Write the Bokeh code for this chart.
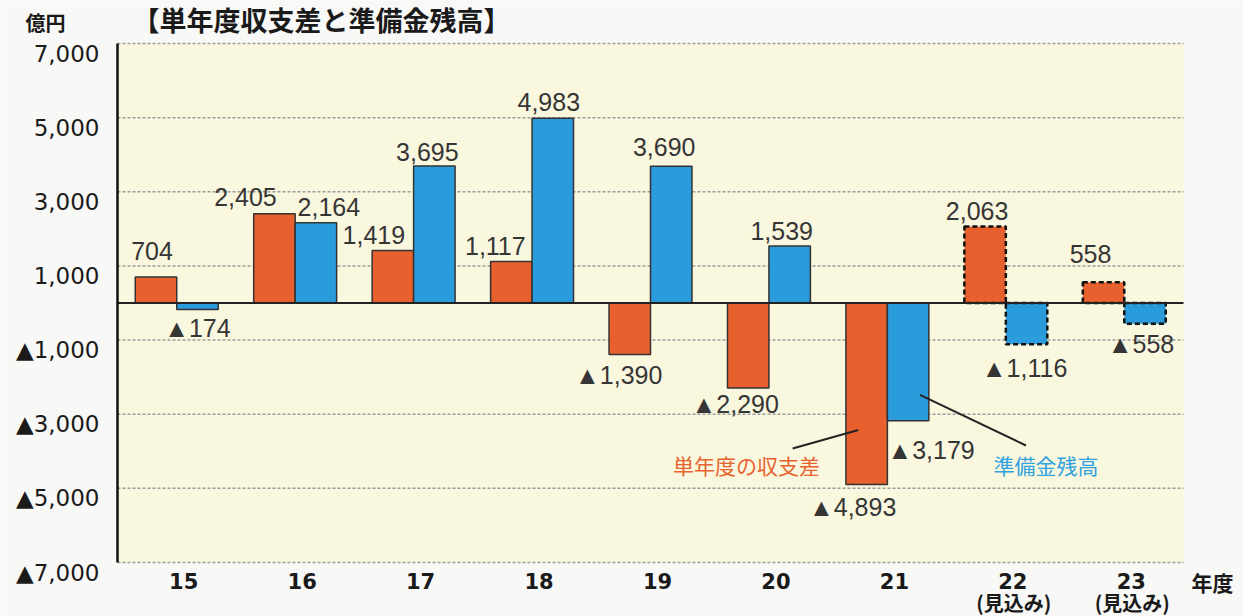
from bokeh.plotting import figure
from bokeh.models import ColumnDataSource, Range1d, CDSView, BooleanFilter
from bokeh.transform import dodge
from bokeh.core.properties import value
from bokeh.embed import file_html
from bokeh.resources import INLINE

# ---------------- data ----------------
title_text = "【単年度収支差と準備金残高】"
unit_text = "億円"
year_text = "年度"
categories = ["15", "16", "17", "18", "19", "20", "21", "22", "23"]
estimate_note = "(見込み)"
is_estimate = [False, False, False, False, False, False, False, True, True]
series_names = ["単年度の収支差", "準備金残高"]
balance = [704, 2405, 1419, 1117, -1390, -2290, -4893, 2063, 558]      # 単年度の収支差
reserve = [-174, 2164, 3695, 4983, 3690, 1539, -3179, -1116, -558]     # 準備金残高
y_ticks = [7000, 5000, 3000, 1000, -1000, -3000, -5000, -7000]

# ---------------- label placement (screen px offsets) ----------------
balance_label_dx = [-4, -29, -19, -16, -11, -13, -14, -8, -13]
balance_label_dy = [-26, -17, -15, -16, 20, 16, 23, -16, -28]
reserve_label_dx = [0, 13, -7, -4, -7, -8, 23, -2, -4]
reserve_label_dy = [19, -16, -14, -16, -19, -15, 29, 24, 20]

# ---------------- layout ----------------
W, H = 1243, 616
AREA_L, AREA_R, AREA_T, AREA_B = 117, 1183, 43, 562   # plot area in canvas px
Y_MIN, Y_MAX = min(y_ticks), max(y_ticks)
X_MIN, X_MAX = -0.5, len(categories) - 0.5
upp_x = (X_MAX - X_MIN) / (AREA_R - AREA_L)
upp_y = (Y_MAX - Y_MIN) / (AREA_B - AREA_T)
x_range = Range1d(X_MIN - AREA_L * upp_x, X_MAX + (W - AREA_R) * upp_x)
y_range = Range1d(Y_MIN - (H - AREA_B) * upp_y, Y_MAX + AREA_T * upp_y)

ORANGE = "#E8602D"
BLUE = "#2B9CDB"
INK = "#1a1a1a"
BAR_W = 0.35
HALF = BAR_W / 2


def fmt(v):
    return ("▲" if v < 0 else "") + f"{abs(v):,}"


p = figure(width=W, height=H, x_range=x_range, y_range=y_range,
           output_backend="svg", toolbar_location=None,
           x_axis_location=None, y_axis_location=None,
           min_border=0, min_border_left=0, min_border_right=0,
           min_border_top=0, min_border_bottom=0)
p.title.visible = False
p.background_fill_color = "#F8F8F6"
p.border_fill_color = "#F8F8F6"
p.outline_line_color = None
p.grid.visible = False

# plot area
p.quad(left=[X_MIN], right=[X_MAX], bottom=[Y_MIN], top=[Y_MAX],
       fill_color="#FAF7DF", line_color=None)

# dotted grid lines at the ticks
p.segment(x0=[X_MIN] * len(y_ticks), x1=[X_MAX] * len(y_ticks), y0=y_ticks, y1=y_ticks,
          line_color="#9c9c9c", line_width=1.5, line_dash="3 2")

src = ColumnDataSource(dict(
    idx=list(range(len(categories))),
    balance=balance, reserve=reserve,
    balance_label=[fmt(v) for v in balance],
    reserve_label=[fmt(v) for v in reserve],
    bdx=balance_label_dx, bdy=balance_label_dy,
    rdx=reserve_label_dx, rdy=reserve_label_dy,
))
actual_view = CDSView(filter=BooleanFilter([not e for e in is_estimate]))
est_view = CDSView(filter=BooleanFilter(is_estimate))

for col, color, off in (("balance", ORANGE, -HALF), ("reserve", BLUE, HALF)):
    p.vbar(x=dodge("idx", off), top=col, bottom=0, width=BAR_W, source=src,
           view=actual_view, fill_color=color, line_color="#333333", line_width=1.5)
    p.vbar(x=dodge("idx", off), top=col, bottom=0, width=BAR_W, source=src,
           view=est_view, fill_color=color, line_color="#111111", line_width=2.5,
           line_dash="5 3")

# zero line and y axis line
p.segment(x0=[X_MIN], x1=[X_MAX], y0=[0], y1=[0], line_color="#222222", line_width=2)
p.segment(x0=[X_MIN], x1=[X_MIN], y0=[Y_MIN], y1=[Y_MAX], line_color="#111111",
          line_width=2.5)

# value labels
for col, lab, dx, dy, off in (("balance", "balance_label", "bdx", "bdy", -HALF),
                              ("reserve", "reserve_label", "rdx", "rdy", HALF)):
    p.text(x=dodge("idx", off), y=col, text=lab, x_offset=dx, y_offset=dy, source=src,
           text_font=value("Liberation Sans"), text_font_size="25px",
           text_color="#353535", text_align="center", text_baseline="middle")

# series labels with leader lines (pointing at the year-21 bars)
i21 = categories.index("21")
series_pos = [(i21 - 1.19, -4380), (i21 + 1.34, -4380)]
series_colors = ["#E8622E", "#2FA3DF"]
p.text(x=[s[0] for s in series_pos], y=[s[1] for s in series_pos], text=series_names,
       text_color=series_colors, text_font=value("Noto Sans CJK JP"),
       text_font_size="21px", text_align="center", text_baseline="middle")
p.segment(x0=[series_pos[0][0] + 0.39, series_pos[1][0] - 0.17],
          y0=[series_pos[0][1] + 455, series_pos[1][1] + 536],
          x1=[i21 - HALF - 0.07, i21 + HALF + 0.1],
          y1=[balance[i21] * 0.70, reserve[i21] * 0.78],
          line_color="#222222", line_width=2)

# y tick labels (sit slightly below their grid lines)
p.text(x=[X_MIN] * len(y_ticks), y=y_ticks, text=[fmt(v) for v in y_ticks],
       x_offset=-18, y_offset=10, text_font=value("DejaVu Sans"),
       text_font_size="23px", text_color=INK, text_align="right",
       text_baseline="middle")

# x tick labels
p.text(x=list(range(len(categories))), y=[Y_MIN] * len(categories), text=categories,
       x_offset=7, y_offset=18, text_font=value("DejaVu Sans"), text_font_size="21px",
       text_font_style="bold", text_color=INK, text_align="center",
       text_baseline="middle")
est_idx = [i for i, e in enumerate(is_estimate) if e]
p.text(x=est_idx, y=[Y_MIN] * len(est_idx), text=[estimate_note] * len(est_idx),
       x_offset=8, y_offset=40, text_font=value("Noto Sans CJK JP"),
       text_font_size="20px", text_font_style="bold", text_color=INK,
       text_align="center", text_baseline="middle")

# unit / axis captions and title
p.text(x=[X_MAX], y=[Y_MIN], text=[year_text], x_offset=29, y_offset=19,
       text_font=value("Noto Sans CJK JP"), text_font_size="21px",
       text_font_style="bold", text_color=INK, text_align="center",
       text_baseline="middle")
p.text(x=[X_MIN], y=[Y_MAX], text=[unit_text], x_offset=-72, y_offset=-21,
       text_font=value("Noto Sans CJK JP"), text_font_size="20px",
       text_font_style="bold", text_color=INK, text_align="center",
       text_baseline="middle")
p.text(x=[X_MIN], y=[Y_MAX], text=[title_text], x_offset=15, y_offset=-24,
       text_font=value("Noto Sans CJK JP"), text_font_size="27px",
       text_font_style="bold", text_color=INK, text_align="left",
       text_baseline="middle")

open("out.html", "w").write(file_html(p, INLINE))
